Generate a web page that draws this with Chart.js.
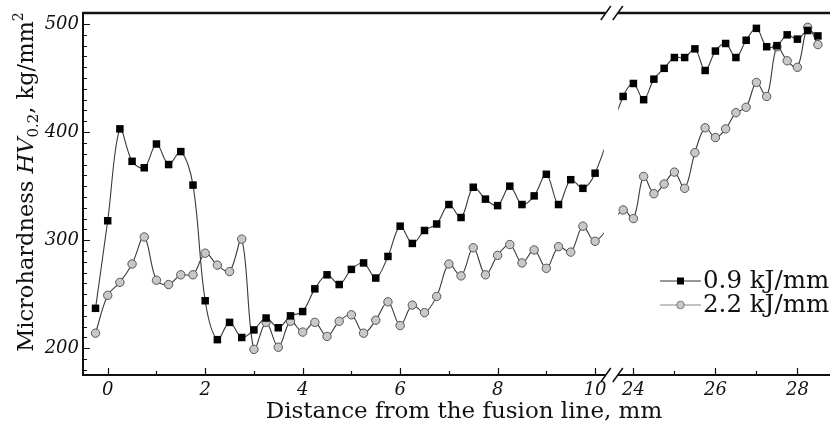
<!DOCTYPE html>
<html>
<head>
<meta charset="utf-8">
<script src="https://cdn.jsdelivr.net/npm/chart.js@4.4.1/dist/chart.umd.min.js"></script>
<style>
  html, body { margin: 0; padding: 0; background: #fff; }
</style>
</head>
<body>
<canvas id="chart" width="830" height="434"></canvas>
<script>
// distance from the fusion line, mm (left part and right part of the broken axis)
const leftDist = [-0.25, 0, 0.25, 0.5, 0.75, 1, 1.25, 1.5, 1.75, 2, 2.25, 2.5, 2.75, 3, 3.25, 3.5, 3.75,
  4, 4.25, 4.5, 4.75, 5, 5.25, 5.5, 5.75, 6, 6.25, 6.5, 6.75, 7, 7.25, 7.5, 7.75, 8, 8.25, 8.5, 8.75,
  9, 9.25, 9.5, 9.75, 10];
const rightDist = [23.75, 24, 24.25, 24.5, 24.75, 25, 25.25, 25.5, 25.75, 26, 26.25, 26.5, 26.75,
  27, 27.25, 27.5, 27.75, 28, 28.25, 28.5];

// microhardness HV0.2, kg/mm2
const hv09Left = [237, 318, 403, 373, 367, 389, 370, 382, 351, 244, 208, 224, 210, 217, 228, 219, 230,
  234, 255, 268, 259, 273, 279, 265, 285, 313, 297, 309, 315, 333, 321, 349, 338, 332, 350, 333, 341,
  361, 333, 356, 348, 362];
const hv09Right = [433, 445, 430, 449, 459, 469, 469, 477, 457, 475, 482, 469, 485, 496, 479, 480,
  490, 486, 494, 489];
const hv22Left = [214, 249, 261, 278, 303, 263, 259, 268, 268, 288, 277, 271, 301, 199, 224, 201, 225,
  215, 224, 211, 225, 231, 214, 226, 243, 221, 240, 233, 248, 278, 267, 293, 268, 286, 296, 279, 291,
  274, 294, 289, 313, 299];
const hv22Right = [328, 320, 359, 343, 352, 363, 348, 381, 404, 395, 403, 418, 423, 446, 433, 479,
  466, 460, 497, 481];

const seriesLabels = ['0.9 kJ/mm', '2.2 kJ/mm'];
const xMajorTicks = [0, 2, 4, 6, 8, 10, 24, 26, 28];
const xMinorTicks = [1, 3, 5, 7, 9, 25, 27];
const yMajorTicks = [200, 300, 400, 500];

// broken axis: right part is squeezed and moved next to the left one
const BREAK_END = 10.18, BREAK_START = 23.63;
function toAxis(d) {
  return d <= 12 ? d : 10.786 + (d - 24) * 0.8414;
}

function points(xs, ys) {
  return xs.map((d, i) => ({ x: toAxis(d), y: ys[i] }));
}

const INK = '#111';
const LINE = '#3a3a3a';

const framePlugin = {
  id: 'frame',
  afterDatasetsDraw(chart) {
    const { ctx, chartArea: a, scales: { x } } = chart;
    const g0 = x.getPixelForValue(toAxis(BREAK_END));
    const g1 = x.getPixelForValue(toAxis(BREAK_START));
    ctx.save();
    ctx.fillStyle = '#fff';
    ctx.fillRect(g0, a.top + 2, g1 - g0, a.bottom - a.top - 3);
    ctx.restore();
  },
  afterDraw(chart) {
    const { ctx, chartArea: a, scales: { x, y } } = chart;
    const c1 = x.getPixelForValue(toAxis(10.22));
    const c2 = x.getPixelForValue(toAxis(23.62));
    ctx.save();
    ctx.strokeStyle = INK;
    ctx.lineCap = 'butt';

    // axis lines
    ctx.lineWidth = 2;
    ctx.beginPath();
    ctx.moveTo(a.left, a.top - 1);
    ctx.lineTo(a.left, a.bottom + 1);
    ctx.moveTo(a.left, a.bottom);
    ctx.lineTo(c1, a.bottom);
    ctx.moveTo(c2, a.bottom);
    ctx.lineTo(a.right, a.bottom);
    ctx.stroke();
    ctx.lineWidth = 2.5;
    ctx.beginPath();
    ctx.moveTo(a.left - 1, a.top);
    ctx.lineTo(c1, a.top);
    ctx.moveTo(c2, a.top);
    ctx.lineTo(a.right, a.top);
    ctx.stroke();

    // break marks
    ctx.lineWidth = 1.5;
    ctx.beginPath();
    [a.top, a.bottom].forEach(yy => {
      [c1, c2].forEach(cx => {
        ctx.moveTo(cx - 5, yy + 7);
        ctx.lineTo(cx + 5, yy - 7);
      });
    });
    ctx.stroke();

    // ticks
    ctx.lineWidth = 1.2;
    ctx.beginPath();
    xMajorTicks.forEach(d => {
      const px = Math.round(x.getPixelForValue(toAxis(d))) + 0.5;
      ctx.moveTo(px, a.bottom);
      ctx.lineTo(px, a.bottom - 7);
    });
    xMinorTicks.forEach(d => {
      const px = Math.round(x.getPixelForValue(toAxis(d))) + 0.5;
      ctx.moveTo(px, a.bottom);
      ctx.lineTo(px, a.bottom - 4);
    });
    for (let v = 180; v <= 510; v += 10) {
      const py = Math.round(y.getPixelForValue(v)) + 0.5;
      const len = yMajorTicks.includes(v) ? 7 : 4;
      ctx.moveTo(a.left, py);
      ctx.lineTo(a.left + len, py);
    }
    ctx.stroke();

    // x axis title
    ctx.fillStyle = INK;
    ctx.font = '23px "DejaVu Serif"';
    ctx.textAlign = 'center';
    ctx.textBaseline = 'middle';
    ctx.fillText('Distance from the fusion line, mm', 464, 412);
    ctx.textAlign = 'left';

    // y axis title with italic HV and sub/superscripts
    const parts = [
      { t: 'Microhardness ', f: '22.5px "DejaVu Serif"', dy: 0 },
      { t: 'HV', f: 'italic 22.5px "DejaVu Serif"', dy: 0 },
      { t: '0.2', f: '15px "DejaVu Serif"', dy: 5 },
      { t: ', kg/mm', f: '22.5px "DejaVu Serif"', dy: 0 },
      { t: '2', f: '14px "DejaVu Serif"', dy: -10 }
    ];
    let total = 0;
    parts.forEach(p => { ctx.font = p.f; p.w = ctx.measureText(p.t).width; total += p.w; });
    ctx.translate(33, 182);
    ctx.rotate(-Math.PI / 2);
    ctx.textBaseline = 'alphabetic';
    let cx = -total / 2;
    parts.forEach(p => {
      ctx.font = p.f;
      ctx.fillText(p.t, cx, p.dy);
      cx += p.w;
    });
    ctx.restore();

    // legend
    ctx.save();
    const ly = [281, 305];
    chart.data.datasets.forEach((ds, i) => {
      const yy = ly[i];
      ctx.strokeStyle = i === 0 ? '#333' : '#888';
      ctx.lineWidth = 1.2;
      ctx.beginPath();
      ctx.moveTo(660, yy);
      ctx.lineTo(701, yy);
      ctx.stroke();
      if (i === 0) {
        ctx.fillStyle = '#000';
        ctx.fillRect(677, yy - 3.5, 7, 7);
      } else {
        ctx.beginPath();
        ctx.arc(680.5, yy, 3.8, 0, Math.PI * 2);
        ctx.fillStyle = '#c8c8c8';
        ctx.fill();
        ctx.strokeStyle = '#777';
        ctx.lineWidth = 1;
        ctx.stroke();
      }
      ctx.fillStyle = INK;
      ctx.font = '24.5px "DejaVu Serif"';
      ctx.textBaseline = 'middle';
      ctx.fillText(ds.label, 703, yy + 1);
    });
    ctx.restore();
  }
};

new Chart(document.getElementById('chart'), {
  type: 'line',
  data: {
    datasets: [
      {
        label: seriesLabels[0],
        data: points(leftDist, hv09Left).concat(points(rightDist, hv09Right)),
        borderColor: LINE,
        borderWidth: 1.1,
        tension: 0.35,
        pointStyle: 'rect',
        pointRadius: 5.3,
        pointBackgroundColor: '#000',
        pointBorderColor: '#000',
        pointBorderWidth: 0
      },
      {
        label: seriesLabels[1],
        data: points(leftDist, hv22Left).concat(points(rightDist, hv22Right)),
        borderColor: LINE,
        borderWidth: 1.1,
        tension: 0.35,
        pointStyle: 'circle',
        pointRadius: 4.2,
        pointBackgroundColor: '#c8c8c8',
        pointBorderColor: '#555',
        pointBorderWidth: 1
      }
    ]
  },
  options: {
    responsive: false,
    animation: false,
    devicePixelRatio: 1,
    layout: { autoPadding: false, padding: { top: 13, right: 0, left: 0, bottom: 0 } },
    plugins: { legend: { display: false }, tooltip: { enabled: false } },
    scales: {
      x: {
        type: 'linear',
        min: -0.507,
        max: 14.82,
        afterBuildTicks: s => { s.ticks = xMajorTicks.map(d => ({ value: toAxis(d) })); },
        afterFit: s => { s.height = 59; s.paddingLeft = 0; s.paddingRight = 0; },
        grid: { display: false, drawTicks: false },
        border: { display: false },
        ticks: {
          autoSkip: false,
          maxRotation: 0,
          padding: 5,
          color: INK,
          font: { family: 'DejaVu Serif', size: 18, style: 'italic' },
          callback: (v, i) => String(xMajorTicks[i])
        }
      },
      y: {
        min: 175.3,
        max: 510.2,
        afterBuildTicks: s => { s.ticks = yMajorTicks.map(v => ({ value: v })); },
        afterFit: s => { s.width = 83; s.paddingTop = 0; s.paddingBottom = 0; },
        grid: { display: false, drawTicks: false },
        border: { display: false },
        ticks: {
          padding: 4,
          color: INK,
          font: { family: 'DejaVu Serif', size: 18, style: 'italic' }
        }
      }
    }
  },
  plugins: [framePlugin]
});
</script>
</body>
</html>
